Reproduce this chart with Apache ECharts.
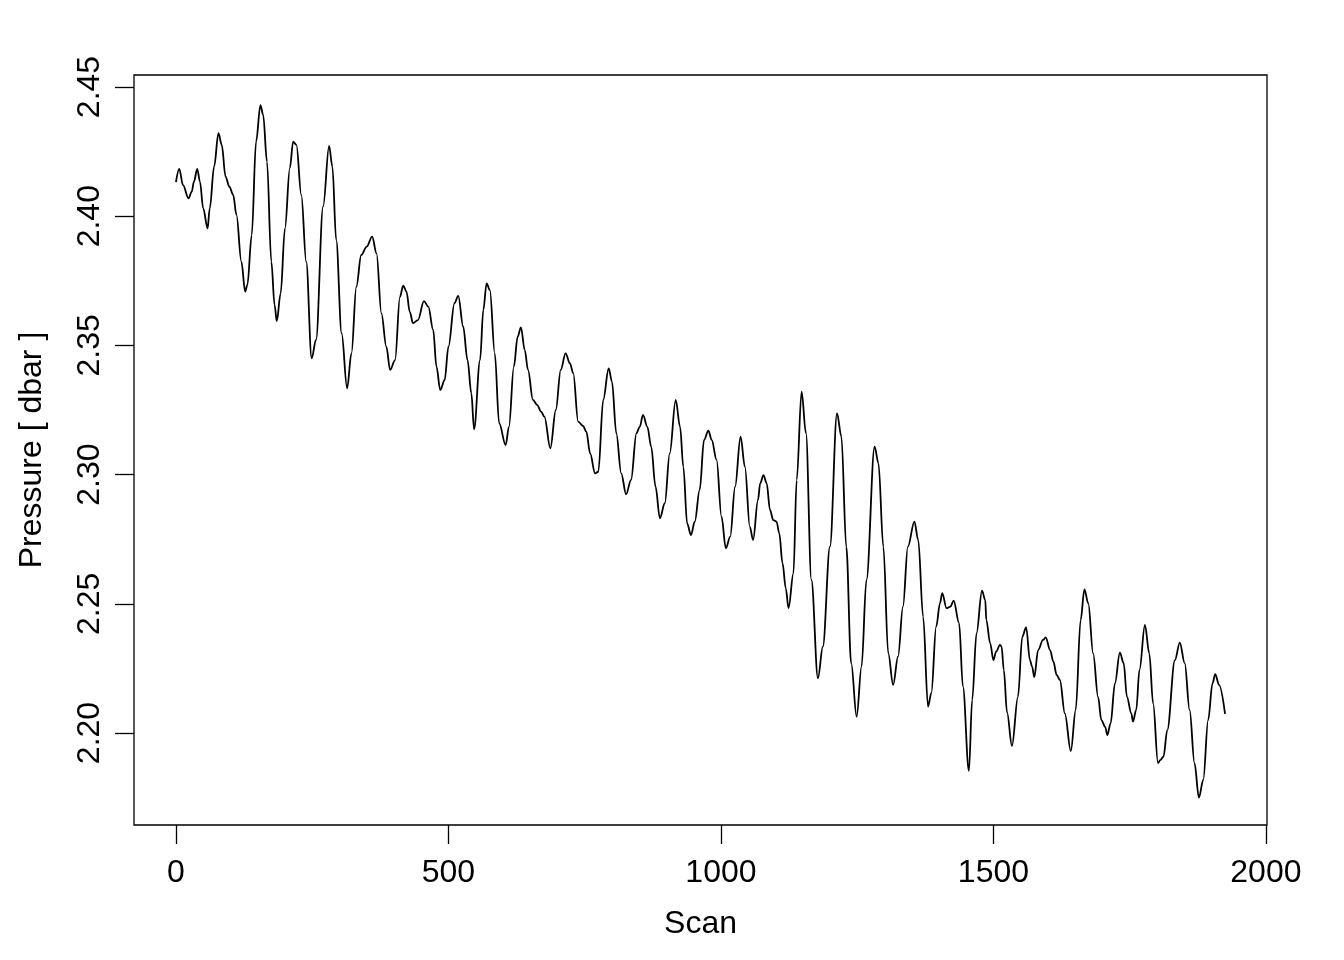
<!DOCTYPE html>
<html>
<head>
<meta charset="utf-8">
<script src="https://cdn.jsdelivr.net/npm/echarts@6/dist/echarts.min.js"></script>
<style>
  html, body { margin: 0; padding: 0; background: #fff; }
  #chart { width: 1344px; height: 960px; }
</style>
</head>
<body>
<div id="chart"></div>
<script>
// scan number and pressure (peaks, troughs and points between)
const scans = [
  0, 6, 13, 23, 29, 33, 39, 44, 50, 58, 62, 70, 78, 84, 91, 98, 105, 111, 120, 127,
  131, 139, 147, 155, 160, 167, 175, 181, 185, 192, 200, 209, 215, 221, 230, 239, 249, 257, 270, 281,
  287, 294, 304, 314, 322, 331, 340, 350, 360, 368, 377, 386, 393, 402, 411, 417, 423, 429, 435, 444,
  455, 463, 472, 478, 485, 493, 500, 511, 518, 527, 535, 542, 547, 558, 564, 570, 576, 585, 593, 605,
  611, 620, 627, 633, 640, 646, 655, 663, 670, 676, 687, 697, 706, 715, 723, 729, 738, 747, 753, 760,
  769, 775, 784, 794, 800, 808, 817, 826, 835, 845, 851, 857, 865, 872, 880, 888, 897, 906, 917, 925,
  931, 938, 945, 952, 961, 969, 977, 983, 992, 1001, 1009, 1017, 1026, 1036, 1044, 1053, 1059, 1068, 1072, 1078,
  1084, 1090, 1096, 1102, 1107, 1113, 1119, 1124, 1133, 1139, 1148, 1156, 1166, 1178, 1187, 1200, 1213, 1221, 1230, 1239,
  1249, 1258, 1267, 1282, 1289, 1298, 1307, 1316, 1325, 1334, 1343, 1355, 1362, 1371, 1380, 1386, 1395, 1402, 1406, 1414,
  1421, 1427, 1437, 1444, 1455, 1461, 1469, 1479, 1485, 1487, 1494, 1500, 1505, 1512, 1515, 1519, 1525, 1534, 1545, 1553,
  1560, 1567, 1571, 1575, 1582, 1591, 1596, 1604, 1610, 1616, 1622, 1631, 1642, 1651, 1660, 1667, 1674, 1683, 1692, 1698,
  1705, 1709, 1715, 1723, 1732, 1739, 1745, 1753, 1756, 1762, 1768, 1778, 1786, 1793, 1802, 1806, 1812, 1819, 1833, 1842,
  1851, 1860, 1869, 1877, 1885, 1894, 1902, 1907, 1914, 1925
];
const pressures = [
  2.4132, 2.4183, 2.4120, 2.4069, 2.4095, 2.4134, 2.4183, 2.4134, 2.4030, 2.3953, 2.4030, 2.4192, 2.4321, 2.4276, 2.4153, 2.4114, 2.4082, 2.4005, 2.3824, 2.3708,
  2.3734, 2.3927, 2.4288, 2.4430, 2.4392, 2.4211, 2.3824, 2.3656, 2.3594, 2.3700, 2.3953, 2.4187, 2.4288, 2.4276, 2.4082, 2.3824, 2.3450, 2.3521, 2.4037, 2.4272,
  2.4192, 2.3908, 2.3547, 2.3334, 2.3469, 2.3727, 2.3850, 2.3882, 2.3921, 2.3856, 2.3624, 2.3495, 2.3405, 2.3443, 2.3688, 2.3731, 2.3708, 2.3630, 2.3586, 2.3598,
  2.3671, 2.3650, 2.3560, 2.3418, 2.3327, 2.3366, 2.3495, 2.3663, 2.3692, 2.3573, 2.3443, 2.3315, 2.3175, 2.3443, 2.3637, 2.3740, 2.3714, 2.3469, 2.3199, 2.3114,
  2.3185, 2.3418, 2.3534, 2.3570, 2.3482, 2.3405, 2.3289, 2.3269, 2.3244, 2.3224, 2.3102, 2.3250, 2.3405, 2.3469, 2.3430, 2.3392, 2.3205, 2.3188, 2.3166, 2.3082,
  2.3005, 2.3011, 2.3289, 2.3411, 2.3360, 2.3160, 2.3005, 2.2924, 2.2979, 2.3160, 2.3185, 2.3231, 2.3185, 2.3108, 2.2953, 2.2831, 2.2889, 2.3082, 2.3289, 2.3185,
  2.3030, 2.2811, 2.2766, 2.2818, 2.2941, 2.3134, 2.3170, 2.3134, 2.3057, 2.2837, 2.2715, 2.2760, 2.2953, 2.3147, 2.3030, 2.2798, 2.2747, 2.2902, 2.2966, 2.2998,
  2.2966, 2.2863, 2.2824, 2.2818, 2.2773, 2.2657, 2.2560, 2.2483, 2.2618, 2.2979, 2.3321, 2.3160, 2.2592, 2.2212, 2.2334, 2.2721, 2.3237, 2.3147, 2.2721, 2.2270,
  2.2063, 2.2257, 2.2592, 2.3108, 2.3044, 2.2721, 2.2308, 2.2186, 2.2296, 2.2489, 2.2721, 2.2818, 2.2747, 2.2450, 2.2102, 2.2154, 2.2412, 2.2502, 2.2541, 2.2483,
  2.2489, 2.2512, 2.2425, 2.2180, 2.1853, 2.2128, 2.2386, 2.2551, 2.2514, 2.2437, 2.2347, 2.2282, 2.2315, 2.2341, 2.2334, 2.2244, 2.2080, 2.1950, 2.2140, 2.2373,
  2.2409, 2.2282, 2.2257, 2.2216, 2.2321, 2.2360, 2.2370, 2.2321, 2.2276, 2.2225, 2.2205, 2.2076, 2.1930, 2.2089, 2.2437, 2.2556, 2.2502, 2.2308, 2.2140, 2.2050,
  2.2024, 2.1992, 2.2037, 2.2192, 2.2311, 2.2270, 2.2140, 2.2076, 2.2044, 2.2089, 2.2244, 2.2418, 2.2308, 2.2115, 2.1883, 2.1895, 2.1908, 2.2011, 2.2282, 2.2350,
  2.2270, 2.2089, 2.1883, 2.1750, 2.1818, 2.2050, 2.2192, 2.2228, 2.2186, 2.2074
];
const xTicks = [0, 500, 1000, 1500, 2000];
const yTicks = [2.20, 2.25, 2.30, 2.35, 2.40, 2.45];

let chart = echarts.init(document.getElementById("chart"));
let font = "Liberation Sans";
let option = {
  animation: false,
  backgroundColor: "#fff",
  grid: {
    show: true,
    left: 134,
    right: 77,
    top: 75,
    bottom: 135,
    borderColor: "#000",
    borderWidth: 1.3,
  },
  xAxis: {
    type: "value",
    min: -77,
    max: 2002,
    name: "Scan",
    nameLocation: "middle",
    nameGap: 83,
    nameTextStyle: { fontFamily: font, fontSize: 32, color: "#000" },
    axisLine: { show: false, onZero: false },
    axisTick: {
      show: true,
      length: 19,
      customValues: xTicks,
      lineStyle: { color: "#000", width: 1.3 },
    },
    axisLabel: {
      customValues: xTicks,
      margin: 32,
      fontFamily: font,
      fontSize: 32,
      color: "#000",
      formatter: (v) => String(v),
    },
    splitLine: { show: false },
  },
  yAxis: {
    type: "value",
    min: 2.16439,
    max: 2.45464,
    name: "Pressure [ dbar ]",
    nameLocation: "middle",
    nameRotate: 90,
    nameGap: 86,
    nameTextStyle: { fontFamily: font, fontSize: 32, color: "#000" },
    axisLine: { show: false, onZero: false },
    axisTick: {
      show: true,
      length: 19,
      customValues: yTicks,
      lineStyle: { color: "#000", width: 1.3 },
    },
    axisLabel: {
      customValues: yTicks,
      rotate: 90,
      align: "center",
      verticalAlign: "bottom",
      margin: 28,
      fontFamily: font,
      fontSize: 32,
      color: "#000",
      formatter: (v) => v.toFixed(2),
    },
    splitLine: { show: false },
  },
  series: [
    {
      type: "line",
      data: scans.map((s, i) => [s, pressures[i]]),
      showSymbol: false,
      smooth: 0.35,
      smoothMonotone: "x",
      lineStyle: { color: "#000", width: 1.8 },
    },
  ],
};
chart.setOption(option);
</script>
</body>
</html>
